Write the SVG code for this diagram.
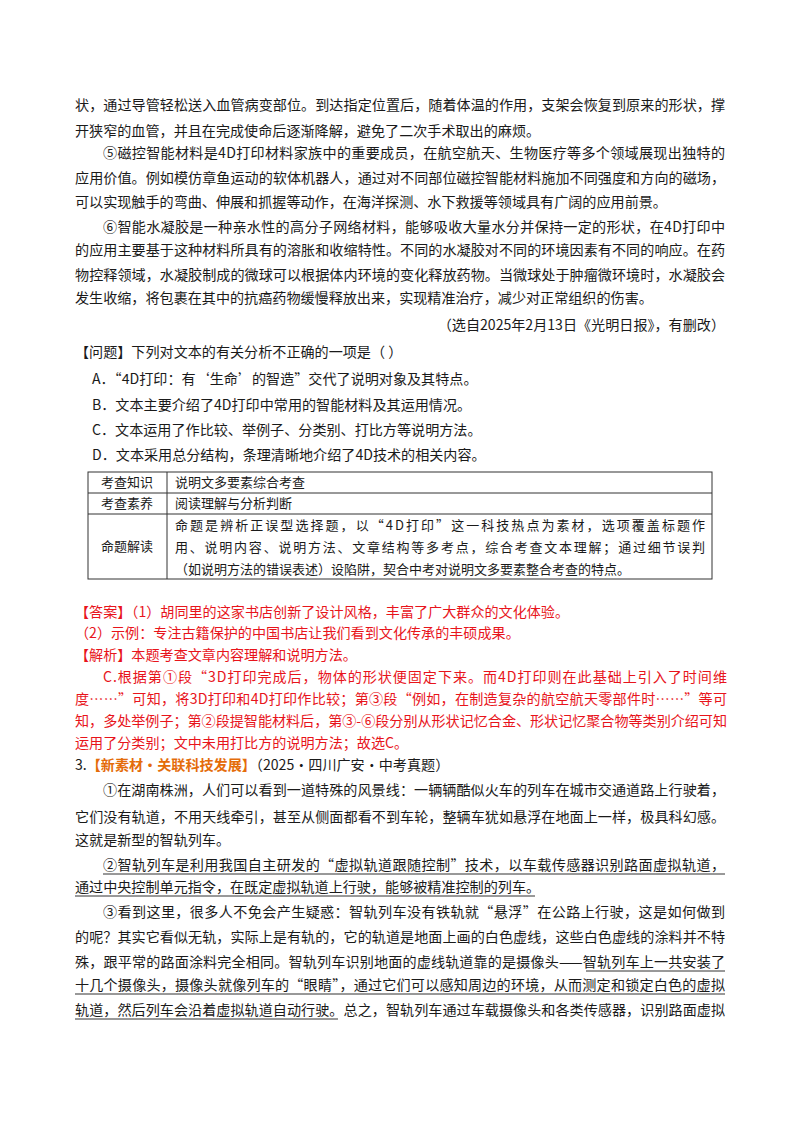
<svg xmlns="http://www.w3.org/2000/svg" width="800" height="1132" viewBox="0 0 800 1132">
<style>
text{font-family:"Noto Sans CJK SC","Liberation Serif",serif;font-size:14.1px;fill:#1a1a1a}
.r{fill:#e8141b}
.o{fill:#e46c0a;font-weight:bold}
.t{font-size:13px}
.u{stroke:#333;stroke-width:1}
.tb{fill:none;stroke:#333;stroke-width:1}
</style>
<rect width="800" height="1132" fill="#fff"/>
<g id="passage1">
<text x="75" y="110" textLength="650" lengthAdjust="spacing">状，通过导管轻松送入血管病变部位。到达指定位置后，随着体温的作用，支架会恢复到原来的形状，撑</text>
<text x="75" y="136">开狭窄的血管，并且在完成使命后逐渐降解，避免了二次手术取出的麻烦。</text>
<text x="103" y="158" textLength="622" lengthAdjust="spacing">⑤磁控智能材料是4D打印材料家族中的重要成员，在航空航天、生物医疗等多个领域展现出独特的</text>
<text x="75" y="183" textLength="650" lengthAdjust="spacing">应用价值。例如模仿章鱼运动的软体机器人，通过对不同部位磁控智能材料施加不同强度和方向的磁场，</text>
<text x="75" y="207">可以实现触手的弯曲、伸展和抓握等动作，在海洋探测、水下救援等领域具有广阔的应用前景。</text>
<text x="103" y="232" textLength="622" lengthAdjust="spacing">⑥智能水凝胶是一种亲水性的高分子网络材料，能够吸收大量水分并保持一定的形状，在4D打印中</text>
<text x="75" y="255" textLength="650" lengthAdjust="spacing">的应用主要基于这种材料所具有的溶胀和收缩特性。不同的水凝胶对不同的环境因素有不同的响应。在药</text>
<text x="75" y="280" textLength="650" lengthAdjust="spacing">物控释领域，水凝胶制成的微球可以根据体内环境的变化释放药物。当微球处于肿瘤微环境时，水凝胶会</text>
<text x="75" y="303">发生收缩，将包裹在其中的抗癌药物缓慢释放出来，实现精准治疗，减少对正常组织的伤害。</text>
<text x="725" y="330" text-anchor="end">（选自2025年2月13日《光明日报》，有删改）</text>
</g>
<g id="question">
<text x="75" y="357">【问题】下列对文本的有关分析不正确的一项是（  ）</text>
<text x="92" y="384">A．“4D打印：有‘生命’的智造”交代了说明对象及其特点。</text>
<text x="92" y="410">B．文本主要介绍了4D打印中常用的智能材料及其运用情况。</text>
<text x="92" y="435">C．文本运用了作比较、举例子、分类别、打比方等说明方法。</text>
<text x="92" y="460">D．文本采用总分结构，条理清晰地介绍了4D技术的相关内容。</text>
</g>
<g id="table">
<rect class="tb" x="88" y="472" width="624" height="107"/>
<line class="tb" x1="88" y1="493" x2="712" y2="493"/>
<line class="tb" x1="88" y1="514" x2="712" y2="514"/>
<line class="tb" x1="167" y1="472" x2="167" y2="579"/>
<text class="t" x="127" y="487" text-anchor="middle">考查知识</text>
<text class="t" x="127" y="508" text-anchor="middle">考查素养</text>
<text class="t" x="127" y="551" text-anchor="middle">命题解读</text>
<text class="t" x="175" y="487">说明文多要素综合考查</text>
<text class="t" x="175" y="508">阅读理解与分析判断</text>
<text class="t" x="175" y="530" textLength="530" lengthAdjust="spacing">命题是辨析正误型选择题，以“4D打印”这一科技热点为素材，选项覆盖标题作</text>
<text class="t" x="175" y="552" textLength="530" lengthAdjust="spacing">用、说明内容、说明方法、文章结构等多考点，综合考查文本理解；通过细节误判</text>
<text class="t" x="175" y="574">（如说明方法的错误表述）设陷阱，契合中考对说明文多要素整合考查的特点。</text>
</g>
<g id="answer">
<text class="r" x="75" y="617">【答案】（1）胡同里的这家书店创新了设计风格，丰富了广大群众的文化体验。</text>
<text class="r" x="75" y="638">（2）示例：专注古籍保护的中国书店让我们看到文化传承的丰硕成果。</text>
<text class="r" x="75" y="660">【解析】本题考查文章内容理解和说明方法。</text>
<text class="r" x="103" y="682" textLength="624" lengthAdjust="spacing">C.根据第①段“3D打印完成后，物体的形状便固定下来。而4D打印则在此基础上引入了时间维</text>
<text class="r" x="75" y="704" textLength="652" lengthAdjust="spacing">度……”可知，将3D打印和4D打印作比较；第③段“例如，在制造复杂的航空航天零部件时……”等可</text>
<text class="r" x="75" y="726" textLength="652" lengthAdjust="spacing">知，多处举例子；第②段提智能材料后，第③-⑥段分别从形状记忆合金、形状记忆聚合物等类别介绍可知</text>
<text class="r" x="75" y="748">运用了分类别；文中未用打比方的说明方法；故选C。</text>
<text x="75" y="770">3.<tspan class="o">【新素材・关联科技发展】</tspan>（2025·四川广安·中考真题）</text>
</g>
<g id="passage2">
<text x="103" y="795" textLength="622" lengthAdjust="spacing">①在湖南株洲，人们可以看到一道特殊的风景线：一辆辆酷似火车的列车在城市交通道路上行驶着，</text>
<text x="75" y="822" textLength="650" lengthAdjust="spacing">它们没有轨道，不用天线牵引，甚至从侧面都看不到车轮，整辆车犹如悬浮在地面上一样，极具科幻感。</text>
<text x="75" y="845">这就是新型的智轨列车。</text>
<text x="103" y="870" textLength="622" lengthAdjust="spacing">②智轨列车是利用我国自主研发的“虚拟轨道跟随控制”技术，以车载传感器识别路面虚拟轨道，</text>
<text x="75" y="892">通过中央控制单元指令，在既定虚拟轨道上行驶，能够被精准控制的列车。</text>
<text x="103" y="917" textLength="622" lengthAdjust="spacing">③看到这里，很多人不免会产生疑惑：智轨列车没有铁轨就“悬浮”在公路上行驶，这是如何做到</text>
<text x="75" y="942" textLength="650" lengthAdjust="spacing">的呢？其实它看似无轨，实际上是有轨的，它的轨道是地面上画的白色虚线，这些白色虚线的涂料并不特</text>
<text x="75" y="967" textLength="650" lengthAdjust="spacing">殊，跟平常的路面涂料完全相同。智轨列车识别地面的虚线轨道靠的是摄像头——智轨列车上一共安装了</text>
<text x="75" y="990" textLength="650" lengthAdjust="spacing">十几个摄像头，摄像头就像列车的“眼睛”，通过它们可以感知周边的环境，从而测定和锁定白色的虚拟</text>
<text x="75" y="1015" textLength="650" lengthAdjust="spacing">轨道，然后列车会沿着虚拟轨道自动行驶。总之，智轨列车通过车载摄像头和各类传感器，识别路面虚拟</text>
</g>
<g id="underlines">
<line class="u" x1="103" y1="874" x2="725" y2="874"/>
<line class="u" x1="75" y1="896" x2="535" y2="896"/>
<line class="u" x1="586" y1="971" x2="725" y2="971"/>
<line class="u" x1="75" y1="994" x2="725" y2="994"/>
<line class="u" x1="75" y1="1019" x2="338" y2="1019"/>
</g>
</svg>
